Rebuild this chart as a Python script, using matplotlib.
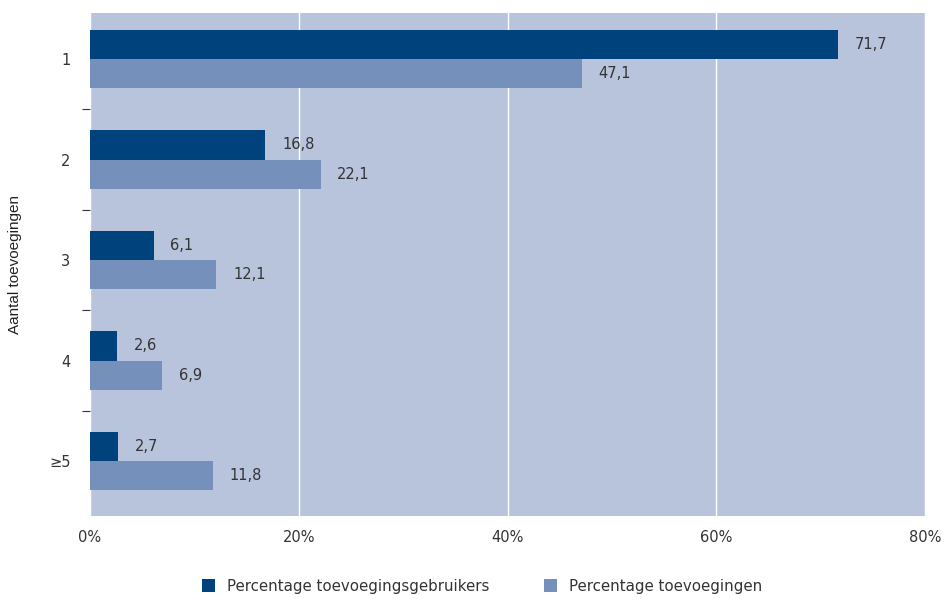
import numpy as np
import matplotlib.pyplot as plt
from matplotlib.ticker import FixedLocator

# DATA
categories = ["1", "2", "3", "4", "\u22655"]
gebruikers = [71.7, 16.8, 6.1, 2.6, 2.7]
toevoegingen = [47.1, 22.1, 12.1, 6.9, 11.8]
xticks = [0, 20, 40, 60, 80]
series_names = ["Percentage toevoegingsgebruikers", "Percentage toevoegingen"]

DARK = "#00437c"
LIGHT = "#7590bb"
BG = "#b8c4dc"

plt.rcParams['font.family'] = ['DejaVu Sans']

fig = plt.figure(figsize=(9.49, 5.99), dpi=100)
ax = fig.add_axes([90/949, 1 - 516/599, 835/949, 503/599])
ax.set_facecolor(BG)

y = np.arange(len(categories))
h = 0.29
b1 = ax.barh(y - h/2, gebruikers, height=h, color=DARK, label=series_names[0], zorder=3)
b2 = ax.barh(y + h/2, toevoegingen, height=h, color=LIGHT, label=series_names[1], zorder=3)

for bars, vals in ((b1, gebruikers), (b2, toevoegingen)):
    for bar, v in zip(bars, vals):
        ax.annotate(f"{v:.1f}".replace(".", ","),
                    (bar.get_width(), bar.get_y() + bar.get_height()/2),
                    xytext=(12, 0), textcoords="offset points",
                    va="center", ha="left", fontsize=10.5, color="#333333")

ax.set_xlim(0, 80)
ax.set_ylim(len(categories) - 1 + 0.547, -0.458)
ax.set_xticks(xticks)
ax.set_xticklabels([f"{t}%" for t in xticks], fontsize=10.5, color="#333333")
ax.set_yticks(y)
ax.set_yticklabels(categories, fontsize=10.5, color="#333333")
ax.yaxis.set_minor_locator(FixedLocator(y[:-1] + 0.5))
ax.tick_params(axis="y", which="major", length=0, pad=14)
ax.tick_params(axis="y", which="minor", length=6, width=0.8, color="#333333")
ax.tick_params(axis="x", length=0, pad=10)

ax.grid(axis="x", color="white", linewidth=1, zorder=1)
for s in ax.spines.values():
    s.set_visible(False)

# y axis title placed on the figure so it is not cut off
fig.text(15/949, 1 - 265/599, "Aantal toevoegingen", rotation=90, ha="center", va="center",
         fontsize=11, family="Liberation Sans", color="#222222")

fig.legend(handles=[b1, b2], loc="center", bbox_to_anchor=(482/949, 1 - 586/599),
           ncol=2, frameon=False, fontsize=10.8, handlelength=0.9, handleheight=0.9,
           columnspacing=3.6, handletextpad=0.8, labelcolor="#333333")

fig.savefig("out.png", dpi=100)
